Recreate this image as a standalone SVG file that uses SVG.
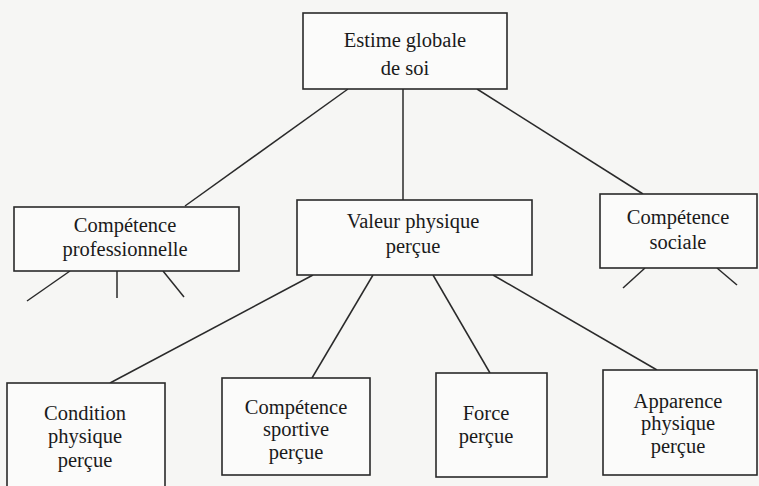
<svg xmlns="http://www.w3.org/2000/svg" width="759" height="486" viewBox="0 0 759 486">
<style>
.box{fill:#fbfbfa;stroke:#2a2a2a;stroke-width:1.6}
.t{font-family:"Liberation Serif","Times New Roman",serif;font-size:20.5px;fill:#1a1a1a;text-anchor:middle}
#connectors line{stroke:#2a2a2a;stroke-width:1.5}
</style>
<rect width="759" height="486" fill="#f6f6f4"/>
<g id="connectors">
<line x1="348" y1="89" x2="185" y2="206"/>
<line x1="403" y1="89" x2="403" y2="200"/>
<line x1="477" y1="89" x2="643" y2="194"/>
<line x1="70" y1="271" x2="27" y2="301"/>
<line x1="117" y1="271" x2="117" y2="298"/>
<line x1="163" y1="271" x2="184" y2="297"/>
<line x1="645" y1="268" x2="623" y2="288"/>
<line x1="717" y1="268" x2="737" y2="285"/>
<line x1="313" y1="275" x2="110" y2="383"/>
<line x1="373" y1="275" x2="312" y2="378"/>
<line x1="433" y1="275" x2="490" y2="373"/>
<line x1="493" y1="275" x2="657" y2="370"/>
</g>
<g id="estime">
<rect class="box" x="303" y="13" width="204" height="76"/>
<text class="t" x="405" y="47">Estime globale</text>
<text class="t" x="405" y="75">de soi</text>
</g>
<g id="competence-pro">
<rect class="box" x="14" y="207" width="225" height="64"/>
<text class="t" x="125" y="232">Compétence</text>
<text class="t" x="125" y="256">professionnelle</text>
</g>
<g id="valeur">
<rect class="box" x="297" y="200" width="235" height="75"/>
<text class="t" x="413" y="228">Valeur physique</text>
<text class="t" x="413" y="253">perçue</text>
</g>
<g id="competence-sociale">
<rect class="box" x="600" y="194" width="157" height="74"/>
<text class="t" x="678" y="224">Compétence</text>
<text class="t" x="678" y="249">sociale</text>
</g>
<g id="condition">
<rect class="box" x="7" y="383" width="158" height="110"/>
<text class="t" x="85" y="420">Condition</text>
<text class="t" x="85" y="443">physique</text>
<text class="t" x="85" y="467">perçue</text>
</g>
<g id="sportive">
<rect class="box" x="222" y="378" width="148" height="97"/>
<text class="t" x="296" y="414">Compétence</text>
<text class="t" x="296" y="436">sportive</text>
<text class="t" x="296" y="459">perçue</text>
</g>
<g id="force">
<rect class="box" x="436" y="373" width="111" height="104"/>
<text class="t" x="486" y="420">Force</text>
<text class="t" x="486" y="443">perçue</text>
</g>
<g id="apparence">
<rect class="box" x="603" y="370" width="154" height="105"/>
<text class="t" x="678" y="408">Apparence</text>
<text class="t" x="678" y="430">physique</text>
<text class="t" x="678" y="453">perçue</text>
</g>
</svg>
